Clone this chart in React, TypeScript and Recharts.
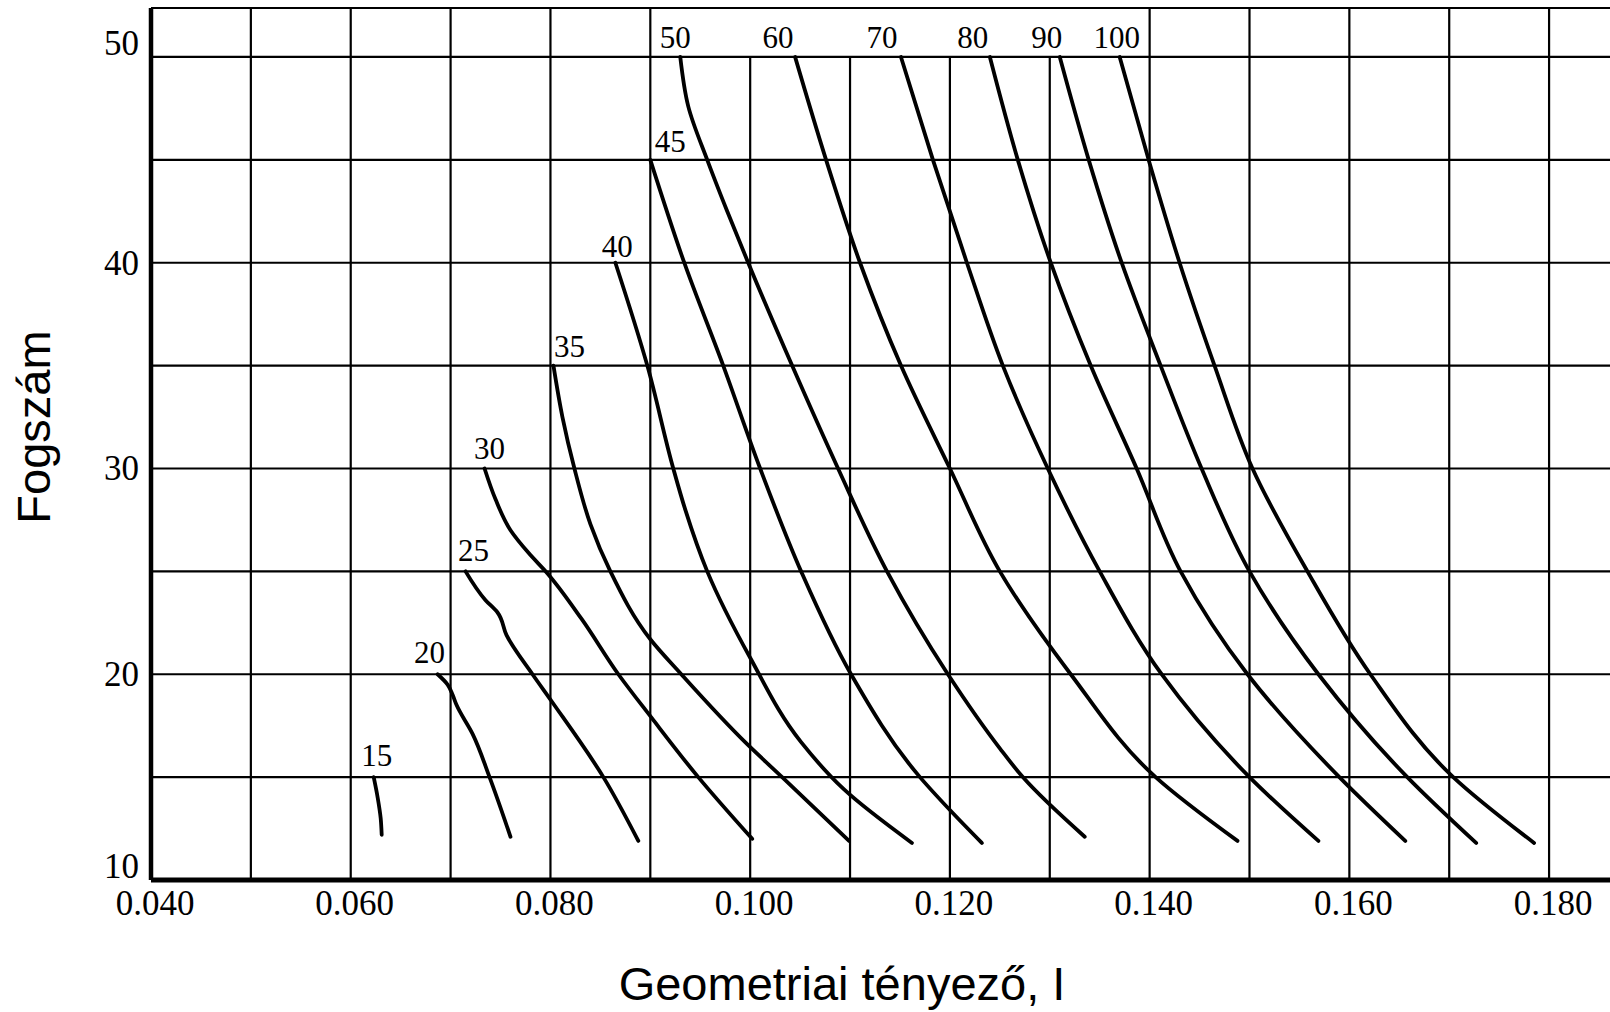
import React from 'react';
import { LineChart, Line, XAxis, YAxis, CartesianGrid, ReferenceLine } from 'recharts';

// Geometry factor chart: number of teeth (y) vs geometry factor I (x),
// one curve per mating gear tooth count.

const xGridTicks = [0.04, 0.05, 0.06, 0.07, 0.08, 0.09, 0.1, 0.11, 0.12, 0.13, 0.14, 0.15, 0.16, 0.17, 0.18];
const xLabelTicks = [0.04, 0.06, 0.08, 0.1, 0.12, 0.14, 0.16, 0.18];
const yGridTicks = [10, 15, 20, 25, 30, 35, 40, 45, 50];
const yLabelTicks = [10, 20, 30, 40, 50];

const curve15: [number, number][] = [[0.0623, 15], [0.0627, 14], [0.063, 13], [0.0631, 12.2]];
const curve20: [number, number][] = [[0.0687, 20], [0.0697, 19.5], [0.0702, 19.0], [0.0706, 18.5], [0.0722, 17.1], [0.0739, 15], [0.076, 12.1]];
const curve25: [number, number][] = [[0.0715, 25], [0.0735, 23.6], [0.0747, 23.0], [0.0756, 21.9], [0.0782, 20], [0.0801, 18.7], [0.0853, 15], [0.0888, 11.9]];
const curve30: [number, number][] = [[0.0734, 30], [0.0745, 28.5], [0.076, 27], [0.0778, 25.9], [0.0797, 24.9], [0.0831, 22.7], [0.0868, 20], [0.0901, 17.9], [0.0948, 15], [0.1002, 12]];
const curve35: [number, number][] = [[0.0803, 35], [0.0812, 32.5], [0.0824, 30], [0.084, 27.3], [0.086, 25], [0.09, 21.7], [0.0931, 20], [0.0997, 16.6], [0.1032, 15], [0.1099, 11.9]];
const curve40: [number, number][] = [[0.0865, 40], [0.0897, 35], [0.0923, 30], [0.0935, 28], [0.0957, 25], [0.1, 20.8], [0.1051, 16.7], [0.1094, 14.4], [0.1162, 11.8]];
const curve45: [number, number][] = [[0.09, 45], [0.0934, 40], [0.0973, 35], [0.101, 30], [0.1051, 25], [0.1101, 20], [0.117, 15], [0.12, 13.4], [0.1232, 11.8]];
const curve50: [number, number][] = [[0.093, 50], [0.0938, 47.6], [0.0957, 45], [0.0977, 42.5], [0.0998, 40], [0.1042, 35], [0.1088, 30], [0.1137, 25], [0.1198, 20], [0.125, 16.4], [0.1273, 15], [0.1335, 12.1]];
const curve60: [number, number][] = [[0.1045, 50], [0.1076, 45], [0.111, 40], [0.1151, 35], [0.12, 30], [0.125, 25], [0.1321, 20], [0.1406, 15], [0.1488, 11.9]];
const curve70: [number, number][] = [[0.1151, 50], [0.1183, 45], [0.1217, 40], [0.1253, 35], [0.1298, 30], [0.135, 25], [0.1412, 20], [0.15, 15], [0.1569, 11.9]];
const curve80: [number, number][] = [[0.124, 50], [0.1268, 45], [0.1301, 40], [0.1341, 35], [0.1387, 30], [0.1431, 25], [0.1498, 20], [0.159, 15], [0.1656, 11.9]];
const curve90: [number, number][] = [[0.131, 50], [0.1339, 45], [0.1372, 40], [0.1411, 35], [0.1452, 30], [0.15, 25], [0.1569, 20], [0.1658, 15], [0.1727, 11.8]];
const curve100: [number, number][] = [[0.137, 50], [0.1399, 45], [0.143, 40], [0.1465, 35], [0.1503, 30], [0.1558, 25], [0.1621, 20], [0.1704, 15], [0.1785, 11.8]];

const curveNames = ['15', '20', '25', '30', '35', '40', '45', '50', '60', '70', '80', '90', '100'];
const curveValues = [curve15, curve20, curve25, curve30, curve35, curve40, curve45, curve50, curve60, curve70, curve80, curve90, curve100];

const X_DOMAIN: [number, number] = [0.04, 0.1861];
const Y_DOMAIN: [number, number] = [10, 52.38];
// vertical rules that stop at the top rule, leaving room for the curve names
const shortRules = [0.1, 0.11, 0.12, 0.13];

// pixel nudge of each curve's name relative to its first point (centre x, baseline)
const labelNudge: Record<string, [number, number]> = {
  '15': [3, -11], '20': [-8, -11], '25': [8, -10], '30': [5, -9], '35': [16, -9],
  '40': [2, -6], '45': [20, -8], '50': [-5, -9], '60': [-17, -9], '70': [-19, -9],
  '80': [-17, -9], '90': [-13, -9], '100': [-3, -9],
};

const W = 1610;
const H = 1012;
const SERIF = '"Liberation Serif", "Times New Roman", Times, serif';
const SANS = '"Liberation Sans", Arial, Helvetica, sans-serif';

const series = curveValues.map((pts) => pts.map(([x, y]) => ({ x, y })));

const sameTick = (a: number, b: number) => Math.round(a * 1000) === Math.round(b * 1000);

const XTick = (props: any) => {
  const { x, y, payload } = props;
  const v = payload.value as number;
  if (!xLabelTicks.some((t) => sameTick(t, v))) return <g />;
  return (
    <text x={x + 4} y={y + 35} textAnchor="middle" fontFamily={SERIF} fontSize={35} fill="#000">
      {v.toFixed(3)}
    </text>
  );
};

const YTick = (props: any) => {
  const { x, y, payload } = props;
  const v = payload.value as number;
  if (!yLabelTicks.includes(v)) return <g />;
  const atEdge = v === yLabelTicks[0] || v === yLabelTicks[yLabelTicks.length - 1];
  return (
    <text x={x} y={atEdge ? y - 2 : y + 12} textAnchor="end" fontFamily={SERIF} fontSize={35} fill="#000">
      {v}
    </text>
  );
};

const makeNameDot = (name: string) => (p: any) => {
  if (p.index !== 0) return <g key={`d-${name}-${p.index}`} />;
  const [dx, dy] = labelNudge[name];
  return (
    <text key={`d-${name}-0`} x={p.cx + dx} y={p.cy + dy} textAnchor="middle" fontFamily={SERIF} fontSize={31} fill="#000">
      {name}
    </text>
  );
};

export default function App() {
  return (
    <div style={{ position: 'absolute', left: 0, top: 0, width: W, height: H, background: '#fff' }}>
      <LineChart width={W} height={H} margin={{ top: 8, right: 0, bottom: 0, left: 0 }}>
        <CartesianGrid stroke="#000" strokeWidth={2.2} vertical={false} />
        {xGridTicks.slice(1).map((t) => {
          const top = shortRules.some((s) => sameTick(s, t)) ? yGridTicks[yGridTicks.length - 1] : Y_DOMAIN[1];
          return (
            <ReferenceLine
              key={`v-${t}`}
              segment={[{ x: t, y: Y_DOMAIN[0] }, { x: t, y: top }]}
              stroke="#000"
              strokeWidth={2.2}
            />
          );
        })}
        <XAxis
          dataKey="x"
          type="number"
          domain={X_DOMAIN}
          allowDataOverflow
          ticks={xGridTicks}
          interval={0}
          height={132}
          tickSize={0}
          tickMargin={0}
          axisLine={{ stroke: '#000', strokeWidth: 5 }}
          tickLine={false}
          tick={<XTick />}
        />
        <YAxis
          type="number"
          domain={Y_DOMAIN}
          allowDataOverflow
          ticks={yGridTicks}
          interval={0}
          width={151}
          tickSize={0}
          tickMargin={12}
          axisLine={{ stroke: '#000', strokeWidth: 4.5 }}
          tickLine={false}
          tick={<YTick />}
        />
        {series.map((data, i) => (
          <Line
            key={curveNames[i]}
            data={data}
            dataKey="y"
            type="monotoneY"
            stroke="#000"
            strokeWidth={3.8}
            strokeLinecap="round"
            strokeLinejoin="round"
            dot={makeNameDot(curveNames[i])}
            activeDot={false}
            isAnimationActive={false}
          />
        ))}
      </LineChart>
      <svg width={W} height={H} style={{ position: 'absolute', left: 0, top: 0, pointerEvents: 'none' }}>
        <text x={842} y={1000} textAnchor="middle" fontFamily={SANS} fontSize={47} fill="#000">
          Geometriai tényező, I
        </text>
        <text transform="translate(50,427) rotate(-90)" textAnchor="middle" fontFamily={SANS} fontSize={47} fill="#000">
          Fogszám
        </text>
      </svg>
    </div>
  );
}
